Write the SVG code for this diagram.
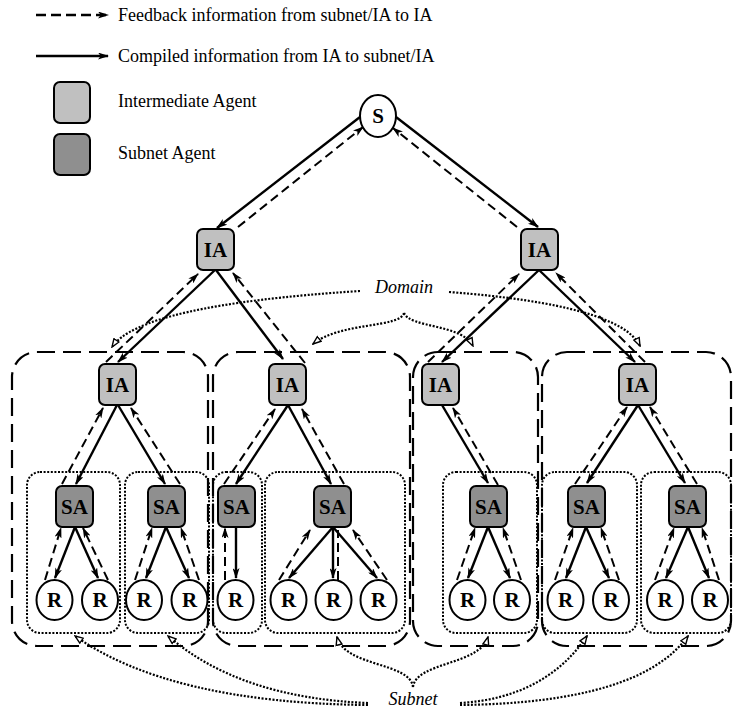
<svg xmlns="http://www.w3.org/2000/svg" width="733" height="711" viewBox="0 0 733 711">
<style>
.bg{fill:#ffffff}
.ia{fill:#c0c0c0;stroke:#000;stroke-width:2}
.sa{fill:#8f8f8f;stroke:#000;stroke-width:2}
.rn{fill:#ffffff;stroke:#000;stroke-width:2}
.lbl{font-family:"Liberation Serif","Times New Roman",serif;font-weight:bold;font-size:21px;text-anchor:middle;fill:#000}
.leg{font-family:"Liberation Serif","Times New Roman",serif;font-size:18px;fill:#000}
.ann{font-family:"Liberation Serif","Times New Roman",serif;font-style:italic;font-size:18px;text-anchor:middle;fill:#000}
.sol{fill:none;stroke:#000;stroke-width:2.4;marker-end:url(#arrS)}
.dsh{fill:none;stroke:#000;stroke-width:2;stroke-dasharray:9 5;marker-end:url(#arrS)}
.dshn{fill:none;stroke:#000;stroke-width:2;stroke-dasharray:9 5}
.lsol{fill:none;stroke:#000;stroke-width:2.6;marker-end:url(#arrS)}
.ldsh{fill:none;stroke:#000;stroke-width:2.6;stroke-dasharray:10 5;marker-end:url(#arrS)}
.dom{fill:none;stroke:#000;stroke-width:2.2;stroke-dasharray:18 8}
.sub{fill:none;stroke:#000;stroke-width:2;stroke-dasharray:2 1.6}
.ptr{fill:none;stroke:#000;stroke-width:2.2;stroke-dasharray:2 1.6;marker-end:url(#arrP)}
</style>
<defs>
<marker id="arrS" viewBox="0 0 11 7" refX="10" refY="3.5" markerWidth="11" markerHeight="7" markerUnits="userSpaceOnUse" orient="auto">
<path d="M0,0 L11,3.5 L0,7 L2.8,3.5 Z" fill="#000" stroke="none"/>
</marker>
<marker id="arrP" viewBox="-1 -1 10 8" refX="8" refY="3" markerWidth="10" markerHeight="8" markerUnits="userSpaceOnUse" orient="auto">
<path d="M0,0 L8,3 L0,6 Z" fill="#fff" stroke="#000" stroke-width="1.4"/>
</marker>
</defs>
<rect class="bg" x="0" y="0" width="733" height="711"/>

<g id="legend">
<path class="ldsh" d="M36,15 L108,15"/>
<text class="leg" x="118" y="21">Feedback information from subnet/IA to IA</text>
<path class="lsol" d="M36,56 L108,56"/>
<text class="leg" x="118" y="62">Compiled information from IA to subnet/IA</text>
<rect class="ia" x="54" y="82" width="36" height="41" rx="6"/>
<text class="leg" x="118" y="107">Intermediate Agent</text>
<rect class="sa" x="54" y="134" width="36" height="41" rx="6"/>
<text class="leg" x="118" y="159">Subnet Agent</text>
</g>

<g id="domains">
<rect class="dom" x="12" y="352" width="196" height="294" rx="25"/>
<rect class="dom" x="213" y="352" width="197" height="294" rx="25"/>
<rect class="dom" x="413" y="352" width="125" height="294" rx="25"/>
<rect class="dom" x="542" y="352" width="189" height="294" rx="25"/>
</g>

<g id="subnets">
<rect class="sub" x="27" y="472" width="93" height="161" rx="13"/>
<rect class="sub" x="125" y="472" width="84" height="161" rx="13"/>
<rect class="sub" x="213" y="472" width="49" height="161" rx="13"/>
<rect class="sub" x="265" y="472" width="140" height="161" rx="13"/>
<rect class="sub" x="443" y="472" width="94" height="161" rx="13"/>
<rect class="sub" x="542" y="472" width="95" height="161" rx="13"/>
<rect class="sub" x="641" y="472" width="90" height="161" rx="13"/>
</g>

<g id="connectors">
<path class="sol" d="M360,117 L217,228"/>
<path class="dsh" d="M238,227 L363,127"/>
<path class="sol" d="M396,117 L538,227"/>
<path class="dsh" d="M517,227 L393,128"/>

<path class="sol" d="M215,270 L118,362"/>
<path class="dsh" d="M106,362 L198,274"/>
<path class="sol" d="M216,270 L283,359"/>
<path class="dsh" d="M305,363 L233,273"/>
<path class="sol" d="M539,270 L442,362"/>
<path class="dsh" d="M428,362 L519,274"/>
<path class="sol" d="M539,270 L635,362"/>
<path class="dsh" d="M645,362 L556,273"/>

<path class="sol" d="M117,405 L76,484"/>
<path class="dsh" d="M62,484 L103,408"/>
<path class="sol" d="M118,405 L165,484"/>
<path class="dsh" d="M180,484 L131,408"/>
<path class="sol" d="M288,405 L236,484"/>
<path class="dsh" d="M224,484 L275,409"/>
<path class="sol" d="M288,405 L331,484"/>
<path class="dsh" d="M344,484 L302,409"/>
<path class="sol" d="M442,405 L488,483"/>
<path class="dsh" d="M498,485 L453,408"/>
<path class="sol" d="M638,405 L587,483"/>
<path class="dsh" d="M575,484 L627,407"/>
<path class="sol" d="M638,405 L685,483"/>
<path class="dsh" d="M697,484 L650,407"/>

<path class="sol" d="M75,527 L55,578"/>
<path class="dsh" d="M45,580 L61,528"/>
<path class="sol" d="M75,527 L98,578"/>
<path class="dsh" d="M108,580 L83,528"/>
<path class="sol" d="M166,527 L146,578"/>
<path class="dsh" d="M135,580 L152,528"/>
<path class="sol" d="M166,527 L189,578"/>
<path class="dsh" d="M199,580 L181,528"/>
<path class="sol" d="M236,527 L236,578"/>
<path class="dsh" d="M225,580 L225,528"/>
<path class="sol" d="M333,527 L289,578"/>
<path class="dsh" d="M279,580 L310,530"/>
<path class="sol" d="M333,527 L333,578"/>
<path class="dshn" d="M338,580 L338,530"/>
<path class="sol" d="M333,527 L377,578"/>
<path class="dsh" d="M387,580 L353,530"/>
<path class="sol" d="M488,527 L468,578"/>
<path class="dsh" d="M457,580 L475,528"/>
<path class="sol" d="M488,527 L510,578"/>
<path class="dsh" d="M521,580 L503,528"/>
<path class="sol" d="M586,527 L566,578"/>
<path class="dsh" d="M555,580 L573,528"/>
<path class="sol" d="M586,527 L609,578"/>
<path class="dsh" d="M619,580 L601,528"/>
<path class="sol" d="M688,527 L666,578"/>
<path class="dsh" d="M655,580 L674,528"/>
<path class="sol" d="M688,527 L709,578"/>
<path class="dsh" d="M719,580 L702,528"/>
</g>

<g id="annotations">
<text class="ann" x="404" y="293">Domain</text>
<path class="ptr" d="M360,291 Q140,305 112,347"/>
<path class="ptr" d="M449,292 Q620,305 640,346"/>
<path class="ptr" d="M404,313 C400,328 340,322 313,344"/>
<path class="ptr" d="M404,313 C410,328 462,324 473,346"/>
<text class="ann" x="413" y="705">Subnet</text>
<path class="ptr" d="M368,705 Q170,703 75,636"/>
<path class="ptr" d="M368,703 Q240,698 168,636"/>
<path class="ptr" d="M460,703 Q545,698 587,636"/>
<path class="ptr" d="M460,705 Q640,703 688,636"/>
<path class="ptr" d="M413,687 C410,662 345,667 337,637"/>
<path class="ptr" d="M413,687 C416,662 480,665 488,637"/>
</g>

<g id="node-S"><ellipse class="rn" cx="378" cy="116" rx="18" ry="21"/><text class="lbl" x="378" y="123">S</text></g>
<g id="node-IA-top-left"><rect class="ia" x="197" y="229" width="37" height="41" rx="6"/><text class="lbl" x="215.5" y="257">IA</text></g>
<g id="node-IA-top-right"><rect class="ia" x="521" y="229" width="37" height="41" rx="6"/><text class="lbl" x="539.5" y="257">IA</text></g>
<g id="node-IA-1"><rect class="ia" x="99" y="364" width="37" height="41" rx="6"/><text class="lbl" x="117.5" y="392">IA</text></g>
<g id="node-IA-2"><rect class="ia" x="269" y="364" width="37" height="41" rx="6"/><text class="lbl" x="287.5" y="392">IA</text></g>
<g id="node-IA-3"><rect class="ia" x="422" y="364" width="37" height="41" rx="6"/><text class="lbl" x="440.5" y="392">IA</text></g>
<g id="node-IA-4"><rect class="ia" x="619" y="364" width="37" height="41" rx="6"/><text class="lbl" x="637.5" y="392">IA</text></g>

<g id="node-SA-1"><rect class="sa" x="56" y="486" width="37" height="41" rx="6"/><text class="lbl" x="74.5" y="514">SA</text></g>
<g id="node-SA-2"><rect class="sa" x="148" y="486" width="37" height="41" rx="6"/><text class="lbl" x="166.5" y="514">SA</text></g>
<g id="node-SA-3"><rect class="sa" x="218" y="486" width="37" height="41" rx="6"/><text class="lbl" x="236.5" y="514">SA</text></g>
<g id="node-SA-4"><rect class="sa" x="314" y="486" width="37" height="41" rx="6"/><text class="lbl" x="332.5" y="514">SA</text></g>
<g id="node-SA-5"><rect class="sa" x="470" y="486" width="37" height="41" rx="6"/><text class="lbl" x="488.5" y="514">SA</text></g>
<g id="node-SA-6"><rect class="sa" x="568" y="486" width="37" height="41" rx="6"/><text class="lbl" x="586.5" y="514">SA</text></g>
<g id="node-SA-7"><rect class="sa" x="669" y="486" width="37" height="41" rx="6"/><text class="lbl" x="687.5" y="514">SA</text></g>

<g id="node-R-1"><ellipse class="rn" cx="54.5" cy="600" rx="18" ry="20"/><text class="lbl" x="54.5" y="607">R</text></g>
<g id="node-R-2"><ellipse class="rn" cx="100" cy="600" rx="18" ry="20"/><text class="lbl" x="100" y="607">R</text></g>
<g id="node-R-3"><ellipse class="rn" cx="144" cy="600" rx="18" ry="20"/><text class="lbl" x="144" y="607">R</text></g>
<g id="node-R-4"><ellipse class="rn" cx="189.5" cy="600" rx="18" ry="20"/><text class="lbl" x="189.5" y="607">R</text></g>
<g id="node-R-5"><ellipse class="rn" cx="235.5" cy="600" rx="18" ry="20"/><text class="lbl" x="235.5" y="607">R</text></g>
<g id="node-R-6"><ellipse class="rn" cx="288.5" cy="600" rx="18" ry="20"/><text class="lbl" x="288.5" y="607">R</text></g>
<g id="node-R-7"><ellipse class="rn" cx="333.5" cy="600" rx="18" ry="20"/><text class="lbl" x="333.5" y="607">R</text></g>
<g id="node-R-8"><ellipse class="rn" cx="378.5" cy="600" rx="18" ry="20"/><text class="lbl" x="378.5" y="607">R</text></g>
<g id="node-R-9"><ellipse class="rn" cx="467.5" cy="600" rx="18" ry="20"/><text class="lbl" x="467.5" y="607">R</text></g>
<g id="node-R-10"><ellipse class="rn" cx="512" cy="600" rx="18" ry="20"/><text class="lbl" x="512" y="607">R</text></g>
<g id="node-R-11"><ellipse class="rn" cx="565.5" cy="600" rx="18" ry="20"/><text class="lbl" x="565.5" y="607">R</text></g>
<g id="node-R-12"><ellipse class="rn" cx="611" cy="600" rx="18" ry="20"/><text class="lbl" x="611" y="607">R</text></g>
<g id="node-R-13"><ellipse class="rn" cx="665" cy="600" rx="18" ry="20"/><text class="lbl" x="665" y="607">R</text></g>
<g id="node-R-14"><ellipse class="rn" cx="710" cy="600" rx="18" ry="20"/><text class="lbl" x="710" y="607">R</text></g>
</svg>
